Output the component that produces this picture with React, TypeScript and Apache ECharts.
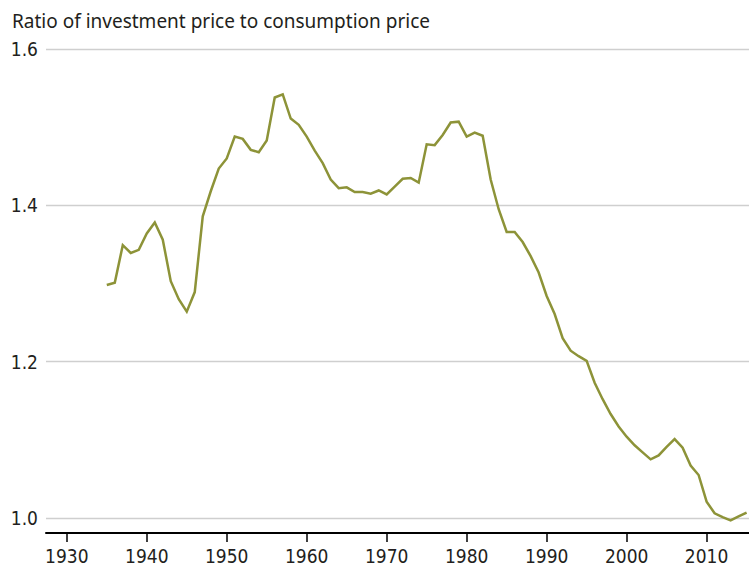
import React, { useEffect, useRef } from "react";
import * as echarts from "echarts";

const years: number[] = [
  1935, 1936, 1937, 1938, 1939, 1940, 1941, 1942, 1943, 1944, 1945, 1946, 1947, 1948, 1949,
  1950, 1951, 1952, 1953, 1954, 1955, 1956, 1957, 1958, 1959, 1960, 1961, 1962, 1963, 1964,
  1965, 1966, 1967, 1968, 1969, 1970, 1971, 1972, 1973, 1974, 1975, 1976, 1977, 1978, 1979,
  1980, 1981, 1982, 1983, 1984, 1985, 1986, 1987, 1988, 1989, 1990, 1991, 1992, 1993, 1994,
  1995, 1996, 1997, 1998, 1999, 2000, 2001, 2002, 2003, 2004, 2005, 2006, 2007, 2008, 2009,
  2010, 2011, 2012, 2013, 2014, 2015,
];

const ratio: number[] = [
  1.298, 1.301, 1.349, 1.339, 1.343, 1.364, 1.378, 1.356, 1.303, 1.28, 1.264, 1.289, 1.386, 1.418, 1.447,
  1.46, 1.488, 1.485, 1.471, 1.468, 1.483, 1.538, 1.542, 1.511, 1.503, 1.488, 1.47, 1.454, 1.433, 1.422,
  1.423, 1.417, 1.417, 1.415, 1.419, 1.414, 1.424, 1.434, 1.435, 1.429, 1.478, 1.477, 1.49, 1.506, 1.507,
  1.488, 1.493, 1.489, 1.433, 1.395, 1.366, 1.366, 1.353, 1.335, 1.314, 1.284, 1.261, 1.23, 1.214, 1.207,
  1.201, 1.173, 1.152, 1.133, 1.117, 1.104, 1.093, 1.084, 1.075, 1.08, 1.091, 1.101, 1.09, 1.067, 1.055,
  1.021, 1.006, 1.001, 0.997, 1.002, 1.007,
];

const xTickYears: number[] = [1930, 1940, 1950, 1960, 1970, 1980, 1990, 2000, 2010];
const yTicks: number[] = [1.0, 1.2, 1.4, 1.6];
const titleText = "Ratio of investment price to consumption price";

const LABEL_FONT = "'DejaVu Sans Condensed', 'Liberation Sans', sans-serif";
const TITLE_FONT = "'Noto Sans', 'Open Sans', sans-serif";

export default function App() {
  const ref = useRef<HTMLDivElement>(null);

  useEffect(() => {
    if (!ref.current) return;
    const chart = echarts.init(ref.current, undefined, { renderer: "svg" });
    const data = years.map((y, i) => [y, ratio[i]]);
    chart.setOption({
      animation: false,
      backgroundColor: "#ffffff",
      graphic: [
        {
          type: "text",
          left: 12,
          top: 11,
          style: {
            text: titleText,
            fontFamily: TITLE_FONT,
            fontSize: 19,
            fill: "#231f20",
          },
        },
      ],
      grid: { left: 46, right: 0, top: 49, bottom: 46, containLabel: false },
      xAxis: {
        type: "value",
        min: 1927.4,
        max: 2015.3,
        offset: 15,
        splitLine: { show: false },
        axisLine: { show: true, lineStyle: { color: "#000", width: 2 } },
        axisTick: {
          show: true,
          length: 9,
          lineStyle: { color: "#000", width: 1.5 },
          customValues: xTickYears,
        },
        axisLabel: {
          show: true,
          customValues: xTickYears,
          margin: 13,
          fontSize: 19,
          fontFamily: LABEL_FONT,
          color: "#231f20",
          formatter: (v: number) => String(Math.round(v)),
        },
      },
      yAxis: {
        type: "value",
        min: 1.0,
        max: 1.6,
        interval: 0.2,
        axisLine: { show: false },
        axisTick: { show: false },
        axisLabel: {
          show: true,
          margin: 8,
          fontSize: 19,
          fontFamily: LABEL_FONT,
          color: "#231f20",
          formatter: (v: number) => v.toFixed(1),
          customValues: yTicks,
        },
        splitLine: { show: true, lineStyle: { color: "#cfcfcf", width: 1.3 } },
      },
      series: [
        {
          type: "line",
          data,
          clip: false,
          symbol: "none",
          lineStyle: { color: "#8d9338", width: 2.5, join: "miter" },
        },
      ],
    });
    return () => chart.dispose();
  }, []);

  return (
    <div
      ref={ref}
      style={{ position: "absolute", left: 0, top: 0, width: 749, height: 565 }}
    />
  );
}
